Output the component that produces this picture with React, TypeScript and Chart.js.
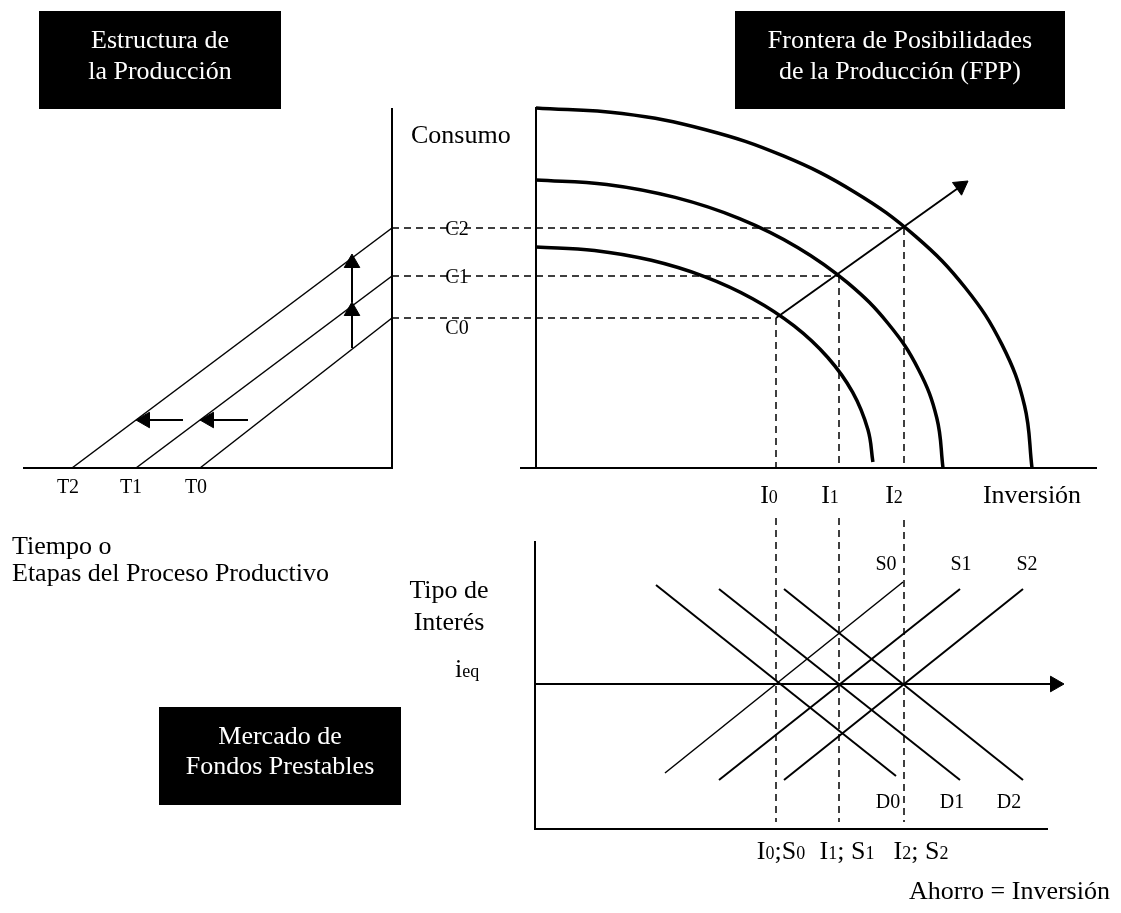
import { useEffect, useRef } from "react";
import { Chart, registerables } from "chart.js";

Chart.register(...registerables);

const W = 1121;
const H = 913;
const FONT = "'Liberation Serif', 'Times New Roman', serif";

// ---- diagram data (diagram units: x to the right, y downward) ----
// Structure of production panel
const structureAxis: number[][] = [[392, 108], [392, 468], [23, 468]];
const stageLineT2: number[][] = [[72, 468], [392, 228]];
const stageLineT1: number[][] = [[136, 468], [392, 276]];
const stageLineT0: number[][] = [[200, 468], [392, 318]];

// PPF panel
const fppAxisY: number[][] = [[536, 107], [536, 468]];
const fppAxisX: number[][] = [[520, 468], [1097, 468]];
const fppInner: number[][] = [
  [536, 247], [594.5, 250.4], [651.3, 260.3], [704.5, 276.6], [752.6, 298.7],
  [794.1, 325.9], [827.8, 357.5], [852.7, 392.4], [867.9, 429.6], [872.9, 462],
];
const fppMiddle: number[][] = [
  [536, 180], [606.7, 184.4], [675.2, 197.4], [739.5, 218.6], [797.6, 247.4],
  [847.8, 282.9], [888.5, 324], [918.5, 369.5], [936.8, 418], [943, 468],
];
const fppOuter: number[][] = [
  [536, 108], [622.1, 113.5], [705.6, 129.7], [784, 156.2], [854.8, 192.2],
  [915.9, 236.6], [965.5, 288], [1002.1, 344.9], [1024.5, 405.5], [1032, 468],
];

// Consumption / investment guide lines
const guideC2: number[][] = [[392, 228], [904, 228]];
const guideC1: number[][] = [[392, 276], [839, 276]];
const guideC0: number[][] = [[392, 318], [776, 318]];
const guideI0Top: number[][] = [[776, 318], [776, 468]];
const guideI1Top: number[][] = [[839, 276], [839, 468]];
const guideI2Top: number[][] = [[904, 228], [904, 468]];
const guideI0Bottom: number[][] = [[776, 518], [776, 822]];
const guideI1Bottom: number[][] = [[839, 518], [839, 822]];
const guideI2Bottom: number[][] = [[904, 520], [904, 822]];

// Loanable funds market
const loanAxis: number[][] = [[535, 541], [535, 829], [1048, 829]];
const supplyS0: number[][] = [[665, 773], [903, 582]];
const supplyS1: number[][] = [[719, 780], [960, 589]];
const supplyS2: number[][] = [[784, 780], [1023, 589]];
const demandD0: number[][] = [[656, 585], [896, 776]];
const demandD1: number[][] = [[719, 589], [960, 780]];
const demandD2: number[][] = [[784, 589], [1023, 780]];

// Arrows: [from, to]
const arrowsSmall: number[][][] = [
  [[352, 348], [352, 302]],
  [[352, 302], [352, 254]],
  [[183, 420], [136, 420]],
  [[248, 420], [200, 420]],
];
const arrowGrowth: number[][] = [[776, 318], [968, 181]];
const arrowRate: number[][] = [[535, 684], [1064, 684]];

// Black title boxes: [x1, y1, x2, y2]
const titleBoxes: number[][] = [
  [39, 11, 281, 109],
  [735, 11, 1065, 109],
  [159, 707, 401, 805],
];

// Texts: [text, x, baseline y, anchor]  ({...} = subscript)
const titleTexts: (string | number)[][] = [
  ["Estructura de", 160, 48, "c"],
  ["la Producción", 160, 79, "c"],
  ["Frontera de Posibilidades", 900, 48, "c"],
  ["de la Producción (FPP)", 900, 79, "c"],
  ["Mercado de", 280, 744, "c"],
  ["Fondos Prestables", 280, 774, "c"],
];
const axisTexts: (string | number)[][] = [
  ["Consumo", 411, 143, "l"],
  ["Inversión", 1032, 503, "c"],
  ["Tiempo o", 12, 554, "l"],
  ["Etapas del Proceso Productivo", 12, 581, "l"],
  ["Tipo de", 449, 598, "c"],
  ["Interés", 449, 630, "c"],
  ["i{eq}", 455, 677, "l"],
  ["I{0}", 769, 503, "c"],
  ["I{1}", 830, 503, "c"],
  ["I{2}", 894, 503, "c"],
  ["I{0};S{0}", 781, 859, "c"],
  ["I{1}; S{1}", 847, 859, "c"],
  ["I{2}; S{2}", 921, 859, "c"],
  ["Ahorro = Inversión", 909, 899, "l"],
];
const smallTexts: (string | number)[][] = [
  ["T2", 68, 493, "c"],
  ["T1", 131, 493, "c"],
  ["T0", 196, 493, "c"],
  ["C2", 457, 235, "c"],
  ["C1", 457, 283, "c"],
  ["C0", 457, 334, "c"],
  ["S0", 886, 570, "c"],
  ["S1", 961, 570, "c"],
  ["S2", 1027, 570, "c"],
  ["D0", 888, 808, "c"],
  ["D1", 952, 808, "c"],
  ["D2", 1009, 808, "c"],
];

// ---- styles ----
const STYLE = {
  axisWidth: 2,
  stageWidth: 1.5,
  fppWidth: 3.5,
  guideWidth: 1.5,
  guideDash: [7, 5],
  marketWidth: 2,
  s0Width: 1.5,
  arrowWidth: 2,
  headRadius: 9,
  titleSize: 26,
  axisSize: 26,
  subSize: 18,
  smallSize: 20,
};

const toXY = (pts: number[][]) => pts.map(([x, y]) => ({ x, y }));

function seg(pts: number[][], width: number, dash: number[] = [], tension = 0) {
  return {
    type: "line" as const,
    data: toXY(pts),
    borderColor: "#000",
    borderWidth: width,
    borderDash: dash,
    tension,
    pointRadius: 0,
    fill: false,
    borderJoinStyle: "miter" as const,
    borderCapStyle: "butt" as const,
  };
}

function arrow(from: number[], to: number[], width: number, r: number) {
  const dx = to[0] - from[0];
  const dy = to[1] - from[1];
  const len = Math.hypot(dx, dy);
  const ux = dx / len;
  const uy = dy / len;
  const center = [to[0] - ux * r, to[1] - uy * r];
  const rotation = (Math.atan2(dx, -dy) * 180) / Math.PI;
  return [
    seg([from, center], width),
    {
      type: "line" as const,
      data: toXY([center]),
      showLine: false,
      pointStyle: "triangle" as const,
      pointRadius: r,
      pointRotation: rotation,
      pointBackgroundColor: "#000",
      pointBorderColor: "#000",
      pointBorderWidth: 1,
    },
  ];
}

function drawRich(
  ctx: CanvasRenderingContext2D,
  text: string,
  px: number,
  py: number,
  size: number,
  subSize: number,
  anchor: string
) {
  const parts = text.split(/\{([^}]*)\}/);
  const widths = parts.map((p, i) => {
    ctx.font = `${i % 2 ? subSize : size}px ${FONT}`;
    return ctx.measureText(p).width;
  });
  const total = widths.reduce((a, b) => a + b, 0);
  let x = anchor === "c" ? px - total / 2 : px;
  parts.forEach((p, i) => {
    ctx.font = `${i % 2 ? subSize : size}px ${FONT}`;
    ctx.fillText(p, x, py);
    x += widths[i];
  });
}

const diagramPlugin = {
  id: "diagramDecor",
  beforeDatasetsDraw(chart: any) {
    const { ctx, scales } = chart;
    const sx = scales.x;
    const sy = scales.y;
    ctx.save();
    ctx.fillStyle = "#000";
    titleBoxes.forEach(([x1, y1, x2, y2]) => {
      const a = sx.getPixelForValue(x1);
      const b = sy.getPixelForValue(y1);
      const c = sx.getPixelForValue(x2);
      const d = sy.getPixelForValue(y2);
      ctx.fillRect(a, b, c - a, d - b);
    });
    ctx.restore();
  },
  afterDatasetsDraw(chart: any) {
    const { ctx, scales } = chart;
    const sx = scales.x;
    const sy = scales.y;
    ctx.save();
    ctx.textAlign = "left";
    ctx.textBaseline = "alphabetic";
    const put = (list: (string | number)[][], size: number, sub: number, color: string) => {
      ctx.fillStyle = color;
      list.forEach(([t, x, y, anchor]) => {
        drawRich(
          ctx,
          String(t),
          sx.getPixelForValue(Number(x)),
          sy.getPixelForValue(Number(y)),
          size,
          sub,
          String(anchor)
        );
      });
    };
    put(titleTexts, STYLE.titleSize, STYLE.subSize, "#fff");
    put(axisTexts, STYLE.axisSize, STYLE.subSize, "#000");
    put(smallTexts, STYLE.smallSize, STYLE.subSize, "#000");
    ctx.restore();
  },
};

export default function App() {
  const ref = useRef<HTMLCanvasElement | null>(null);

  useEffect(() => {
    if (!ref.current) return;
    const datasets: any[] = [
      seg(structureAxis, STYLE.axisWidth),
      seg(stageLineT2, STYLE.stageWidth),
      seg(stageLineT1, STYLE.stageWidth),
      seg(stageLineT0, STYLE.stageWidth),
      seg(fppAxisY, STYLE.axisWidth),
      seg(fppAxisX, STYLE.axisWidth),
      seg(fppInner, STYLE.fppWidth, [], 0.4),
      seg(fppMiddle, STYLE.fppWidth, [], 0.4),
      seg(fppOuter, STYLE.fppWidth, [], 0.4),
      ...[guideC2, guideC1, guideC0, guideI0Top, guideI1Top, guideI2Top, guideI0Bottom, guideI1Bottom, guideI2Bottom].map(
        (g) => seg(g, STYLE.guideWidth, STYLE.guideDash)
      ),
      seg(loanAxis, STYLE.axisWidth),
      seg(supplyS0, STYLE.s0Width),
      seg(supplyS1, STYLE.marketWidth),
      seg(supplyS2, STYLE.marketWidth),
      seg(demandD0, STYLE.marketWidth),
      seg(demandD1, STYLE.marketWidth),
      seg(demandD2, STYLE.marketWidth),
      ...arrowsSmall.flatMap(([f, t]) => arrow(f, t, STYLE.arrowWidth, STYLE.headRadius)),
      ...arrow(arrowGrowth[0], arrowGrowth[1], STYLE.arrowWidth, STYLE.headRadius),
      ...arrow(arrowRate[0], arrowRate[1], STYLE.arrowWidth, STYLE.headRadius),
    ];

    const chart = new Chart(ref.current, {
      type: "line",
      data: { datasets },
      options: {
        animation: false,
        responsive: false,
        devicePixelRatio: 1,
        events: [],
        layout: { padding: 0, autoPadding: false },
        plugins: {
          legend: { display: false },
          tooltip: { enabled: false },
        },
        scales: {
          x: { type: "linear", min: 0, max: W, display: false },
          y: { type: "linear", min: 0, max: H, reverse: true, display: false },
        },
      },
      plugins: [diagramPlugin],
    });
    return () => chart.destroy();
  }, []);

  return (
    <div style={{ position: "absolute", left: 0, top: 0, width: W, height: H, background: "#fff" }}>
      <canvas ref={ref} width={W} height={H} style={{ width: W, height: H, display: "block" }} />
    </div>
  );
}
